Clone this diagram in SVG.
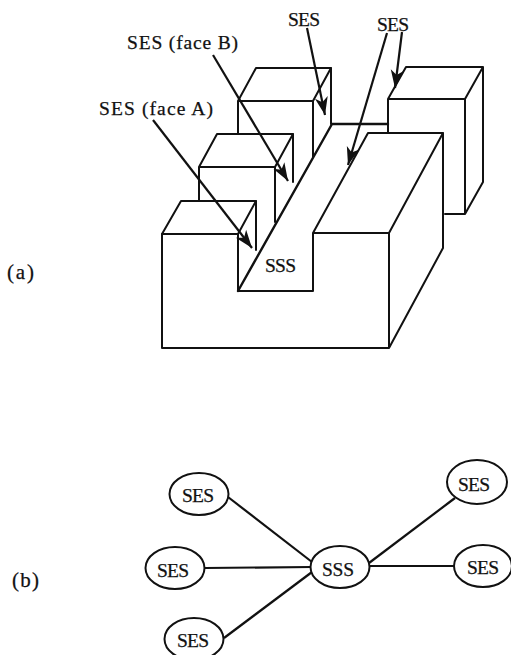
<svg xmlns="http://www.w3.org/2000/svg" width="511" height="655" viewBox="0 0 511 655">
<defs>
<marker id="ah" markerUnits="userSpaceOnUse" markerWidth="20" markerHeight="16" refX="18" refY="8" orient="auto"><path d="M0 1.5 L18 8 L0 14.5 L5 8 Z" fill="#111"/></marker>
</defs>
<style>
.l{fill:none;stroke:#111;stroke-width:2;stroke-linejoin:round;stroke-linecap:round}
.e{fill:#fff;stroke:#111;stroke-width:2}
.c{fill:none;stroke:#111;stroke-width:2.2}
.a{fill:none;stroke:#111;stroke-width:2.2;marker-end:url(#ah)}
text{font-family:"Liberation Serif","Times New Roman",serif;font-size:19.5px;fill:#111;stroke:#111;stroke-width:.25}
.p{font-size:21px}
</style>
<rect width="511" height="655" fill="#fff"/>
<g id="solid">
<path class="l" d="M388 133V99H465V214H445M388 99L406 67H483V182L465 214M465 99L483 67"/>
<path class="l" d="M238 134V101H313V157M238 101L256 68H331V124M331 68L313 101"/>
<path class="l" d="M199 201V167H275V222M199 167L217 134H293V182M293 134L275 167"/>
<path class="l" d="M162 234L181 201H256V250M256 201L238 234"/>
<path class="l" d="M162 234H238V291H313V233H389V348H162ZM389 233L443 133V248L389 348M313 233L368 133H443"/>
<path class="l" style="stroke-width:2.4" d="M238 291L332 124H388"/>
</g>
<g id="arrows">
<path class="a" d="M153 120L252 248"/>
<path class="a" d="M213 55L288 181"/>
<path class="a" d="M307 28L325 115"/>
<path class="a" d="M387 33L348 165"/>
<path class="a" d="M402 32L395 88"/>
</g>
<g id="labels-a">
<text x="127" y="49" textLength="111" lengthAdjust="spacing">SES (face B)</text>
<text x="99" y="115" textLength="114" lengthAdjust="spacing">SES (face A)</text>
<text x="288" y="26" textLength="32">SES</text>
<text x="377" y="31" textLength="32">SES</text>
<text x="265" y="272" textLength="31">SSS</text>
<text class="p" x="7" y="279" textLength="27" lengthAdjust="spacing">(a)</text>
<text class="p" x="12" y="587" textLength="27" lengthAdjust="spacing">(b)</text>
</g>
<g id="connectors">
<path class="c" d="M228 497L312 562"/>
<path class="c" d="M205 568L312 567"/>
<path class="c" d="M224 638L312 572"/>
<path class="c" d="M369 563L455 498"/>
<path class="c" d="M369 566L455 566"/>
</g>
<g id="n1"><ellipse class="e" cx="199" cy="494" rx="29.5" ry="21"/><text x="182" y="502" textLength="32">SES</text></g>
<g id="n2"><ellipse class="e" cx="175" cy="568" rx="29.5" ry="21"/><text x="157" y="577" textLength="32">SES</text></g>
<g id="n3"><ellipse class="e" cx="194" cy="639" rx="29.5" ry="21"/><text x="177" y="647" textLength="32">SES</text></g>
<g id="n4"><ellipse class="e" cx="340" cy="567" rx="29.5" ry="21"/><text x="322" y="576" textLength="32">SSS</text></g>
<g id="n5"><ellipse class="e" cx="477" cy="482" rx="30" ry="22"/><text x="458" y="491" textLength="32">SES</text></g>
<g id="n6"><ellipse class="e" cx="483" cy="566" rx="29" ry="21"/><text x="467" y="574" textLength="32">SES</text></g>
</svg>
